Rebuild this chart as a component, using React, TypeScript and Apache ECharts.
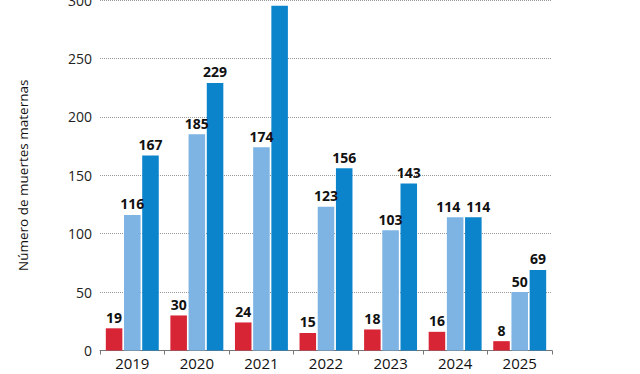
import React, { useEffect, useRef } from "react";
import * as echarts from "echarts";

const years = ["2019", "2020", "2021", "2022", "2023", "2024", "2025"];
const redValues = [19, 30, 24, 15, 18, 16, 8];
const lightValues = [116, 185, 174, 123, 103, 114, 50];
const darkValues = [167, 229, 295, 156, 143, 114, 69];
const seriesColors = ["#d82535", "#7db4e3", "#0b84cc"];

export default function App() {
  const ref = useRef<HTMLDivElement>(null);
  useEffect(() => {
    if (!ref.current) return;
    const chart = echarts.init(ref.current, null, { renderer: "svg" });
    const label = {
      show: true,
      position: "top" as const,
      distance: 4,
      color: "#111",
      fontFamily: "Open Sans",
      fontWeight: "bold" as const,
      fontSize: 14,
    };
    const mk = (data: number[], color: string, shift: number) => ({
      type: "bar" as const,
      data: data.map((v, i) =>
        years[i] === "2024" ? { value: v, label: { offset: [shift, 0] } } : v
      ),
      itemStyle: { color },
      label,
      barGap: "10%",
      barCategoryGap: "18%",
    });
    chart.setOption({
      animation: false,
      grid: {
        left: 100,
        right: 88,
        top: 0,
        bottom: 23.5,
        containLabel: false,
        outerBoundsMode: "none",
      },
      xAxis: {
        type: "category",
        data: years,
        axisLine: { lineStyle: { color: "#777", width: 1 } },
        axisTick: { show: true, length: 4, lineStyle: { color: "#777" } },
        axisLabel: { color: "#111", fontFamily: "Open Sans", fontSize: 15, margin: 5 },
      },
      yAxis: {
        type: "value",
        min: 0,
        max: 300,
        interval: 50,
        name: "Número de muertes maternas",
        nameLocation: "middle",
        nameGap: 70,
        nameTextStyle: { color: "#111", fontFamily: "Open Sans", fontSize: 13.5 },
        axisLine: { show: false },
        axisTick: { show: false },
        axisLabel: { color: "#222", fontFamily: "Open Sans", fontSize: 14, margin: 8 },
        splitLine: { lineStyle: { color: "#999", type: "dotted", width: 1 } },
      },
      series: [
        mk(redValues, seriesColors[0], 0),
        mk(lightValues, seriesColors[1], -7),
        mk(darkValues, seriesColors[2], 5),
      ],
    });
    return () => chart.dispose();
  }, []);
  return (
    <div
      ref={ref}
      style={{ position: "fixed", left: 0, top: 0, width: 640, height: 374, background: "#fff" }}
    />
  );
}
